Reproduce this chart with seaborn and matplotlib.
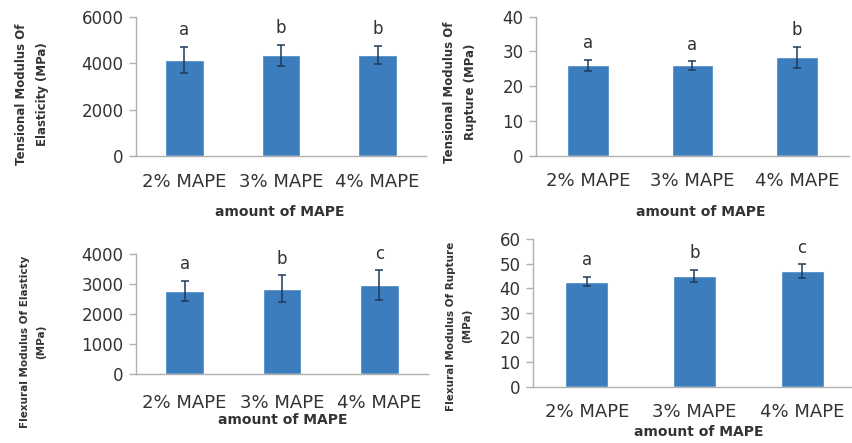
import matplotlib
matplotlib.use('Agg')
import matplotlib.pyplot as plt
import seaborn as sns
import numpy as np
import pandas as pd

categories = ['2% MAPE', '3% MAPE', '4% MAPE']

te_mean = [4150, 4350, 4350]
te_err = [560, 450, 400]
te_letters = ['a', 'b', 'b']

tr_mean = [26.0, 26.0, 28.3]
tr_err = [1.5, 1.2, 3.0]
tr_letters = ['a', 'a', 'b']

fe_mean = [2780, 2850, 2970]
fe_err = [340, 450, 500]
fe_letters = ['a', 'b', 'c']

fr_mean = [42.7, 45.0, 47.0]
fr_err = [1.9, 2.6, 2.7]
fr_letters = ['a', 'b', 'c']

sns.set_theme(style='white')
plt.rcParams['font.family'] = ['DejaVu Sans']

W, H = 852, 443
fig = plt.figure(figsize=(W / 100, H / 100), dpi=100)

BAR = '#3b7dbd'
ERR = '#1f3a5a'
AX = '#b0b0b0'
TXT = '#333333'


def make_panel(px, means, errs, letters, yticks, ylabel, ylab_xy, ylab_size, xlab_xy, ticklabel_pad):
    l, r, t, b = px
    ax = fig.add_axes([l / W, (H - b) / H, (r - l) / W, (b - t) / H])
    df = pd.DataFrame({'cat': categories, 'val': means})
    sns.barplot(data=df, x='cat', y='val', ax=ax, color=BAR, width=0.4,
                saturation=1, errorbar=None)
    ax.errorbar(np.arange(len(categories)), means, yerr=errs, fmt='none',
                ecolor=ERR, elinewidth=1.1, capsize=3, capthick=1.1, zorder=5)
    for i, (m, e, s) in enumerate(zip(means, errs, letters)):
        ax.annotate(s, (i, m + e), xytext=(0, 12), textcoords='offset points',
                    ha='center', va='center', fontsize=12, color=TXT)
    ax.set_ylim(yticks[0], yticks[-1])
    ax.set_yticks(yticks)
    ax.set_yticklabels([str(v) for v in yticks], fontsize=12, color=TXT)
    ax.set_xlim(-0.5, len(categories) - 0.5)
    ax.set_xticks(np.arange(len(categories)))
    ax.set_xticklabels(categories, fontsize=13, color=TXT)
    ax.set_xticks(np.arange(len(categories) + 1) - 0.5, minor=True)
    ax.tick_params(axis='x', which='major', length=0, pad=ticklabel_pad)
    ax.tick_params(axis='x', which='minor', length=5, color=AX, width=1, direction='out')
    ax.tick_params(axis='y', length=5, color=AX, width=1, direction='out', pad=4, left=True)
    for sp in ['top', 'right']:
        ax.spines[sp].set_visible(False)
    for sp in ['left', 'bottom']:
        ax.spines[sp].set_color(AX)
        ax.spines[sp].set_linewidth(1)
    ax.set_xlabel('')
    ax.set_ylabel('')
    fig.text(ylab_xy[0] / W, 1 - ylab_xy[1] / H, ylabel, rotation=90, ha='center', va='center',
             multialignment='center', fontsize=ylab_size, fontweight='bold', color=TXT,
             linespacing=1.75)
    fig.text(xlab_xy[0] / W, 1 - xlab_xy[1] / H, 'amount of MAPE', ha='center', va='center',
             fontsize=10, fontweight='bold', color=TXT)
    return ax


make_panel((136, 426, 17, 156), te_mean, te_err, te_letters, [0, 2000, 4000, 6000],
           'Tensional Modulus Of\nElasticity (MPa)', (32, 94), 8.5, (280, 212), 12)
make_panel((536, 849, 16.7, 155.7), tr_mean, tr_err, tr_letters, [0, 10, 20, 30, 40],
           'Tensional Modulus Of\nRupture (MPa)', (460, 92), 8.5, (701, 212), 12)
make_panel((136, 428, 254.3, 374.3), fe_mean, fe_err, fe_letters, [0, 1000, 2000, 3000, 4000],
           'Flexural Modulus Of Elasticty\n(MPa)', (33, 342), 7.5, (283, 420), 14)
make_panel((533, 856, 239, 386.7), fr_mean, fr_err, fr_letters, [0, 10, 20, 30, 40, 50, 60],
           'Flexural Modulus Of Rupture\n(MPa)', (459, 326), 7.5, (699, 432), 12)

fig.savefig('out.png', dpi=100, facecolor='white')
